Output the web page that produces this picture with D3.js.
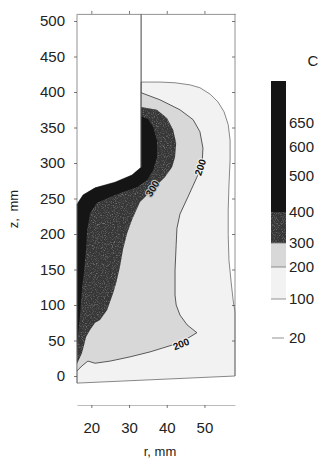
<!DOCTYPE html>
<html>
<head>
<meta charset="utf-8">
<script src="https://cdn.jsdelivr.net/npm/d3@7/dist/d3.min.js"></script>
<style>
  html, body { margin: 0; padding: 0; background: #ffffff; }
  svg { display: block; }
  text { font-family: "Liberation Sans", Arial, sans-serif; fill: #222; }
</style>
</head>
<body>
<svg id="chart" width="321" height="460"></svg>
<script>
// Axis ticks
const rTicks = [20, 30, 40, 50];
const zTicks = [0, 50, 100, 150, 200, 250, 300, 350, 400, 450, 500];

// Temperature scale (deg C): legend labels and filled band limits
const legendLevels = [20, 100, 200, 300, 400, 500, 600, 650];
const bandLimits = [20, 100, 200, 300, 400, 650];
const bandColors = ["#ffffff", "#f2f2f2", "#d8d8d8", "#363636", "#151515"];

// Part geometry, [r mm, z mm]
const innerEdge = [[16.2, 242], [17.8, 255], [21.0, 265], [26.3, 273], [30.8, 283], [33.2, 294]];
const outerEdge = [
  [33.2, 414], [38.2, 414], [42.2, 413], [46.2, 410], [48.8, 406], [51.5, 397],
  [53.6, 386], [55.2, 372], [56.3, 354], [56.8, 332], [56.8, 304], [56.5, 269],
  [56.3, 234], [56.3, 199], [56.5, 163], [57.1, 131], [57.6, 107], [58.1, 90],
  [58.1, 0], [16.2, -10]
];
const cavityTop = 510;

// Isotherms, [r mm, z mm], from the cavity wall down to the axis r = 16.2
const iso200 = [
  [33.2, 399], [38.2, 389], [43.5, 375], [47.0, 361], [48.8, 344], [49.6, 321],
  [49.4, 301], [48.0, 280], [45.6, 252], [43.5, 228], [42.7, 208], [42.5, 185],
  [42.2, 149], [42.2, 114], [42.5, 100], [43.5, 86], [45.4, 72], [48.0, 61],
  [44.9, 51], [41.7, 44], [35.6, 34], [30.3, 27], [25.0, 21], [21.0, 18],
  [19.1, 21], [17.8, 15.5], [16.7, 10], [16.2, 7]
];
const iso300 = [
  [33.2, 379], [37.4, 375], [40.1, 363], [41.7, 347], [42.5, 328], [42.2, 308],
  [41.4, 294], [39.5, 280], [37.4, 269], [35.0, 256], [32.9, 245], [30.8, 220],
  [29.5, 201], [28.4, 178], [27.6, 154], [26.6, 131], [25.8, 117], [24.2, 93],
  [22.3, 79], [21.0, 75], [19.7, 65], [18.6, 55], [18.1, 44], [17.5, 32],
  [16.7, 23], [16.2, 17]
];
const iso400 = [
  [33.2, 366], [35.0, 362], [36.4, 351], [37.4, 332], [37.4, 308], [36.4, 290],
  [34.8, 276], [32.1, 266], [28.4, 259], [25.0, 252], [21.5, 244], [19.7, 230],
  [18.9, 206], [18.6, 178], [18.1, 149], [17.5, 121], [17.0, 86], [16.5, 58],
  [16.2, 44]
];

// Isotherm labels: level, anchor [r, z], text angle
const isoLabels = [
  { level: 200, at: [48.9, 294], angle: -72 },
  { level: 200, at: [43.8, 45], angle: -22 },
  { level: 300, at: [36.2, 264], angle: -58 }
];

const svg = d3.select("#chart");

// Stipple texture used on the 300-400 band
const defs = svg.append("defs");
const grain = defs.append("filter").attr("id", "grain")
  .attr("x", 0).attr("y", 0).attr("width", "100%").attr("height", "100%")
  .attr("color-interpolation-filters", "sRGB");
grain.append("feTurbulence").attr("type", "fractalNoise")
  .attr("baseFrequency", 0.9).attr("numOctaves", 2).attr("seed", 7).attr("result", "noise");
grain.append("feColorMatrix").attr("in", "noise").attr("type", "matrix")
  .attr("values", "0 0 0 0 0.55  0 0 0 0 0.55  0 0 0 0 0.55  2.2 0 0 0 -1.08")
  .attr("result", "dots");
grain.append("feComposite").attr("in", "dots").attr("in2", "SourceGraphic")
  .attr("operator", "in").attr("result", "clip");
const merge = grain.append("feMerge");
merge.append("feMergeNode").attr("in", "SourceGraphic");
merge.append("feMergeNode").attr("in", "clip");

const x = d3.scaleLinear().domain([16.2, 58.1]).range([77, 235]);
const y = d3.scaleLinear().domain([0, 500]).range([376, 21]);
const color = d3.scaleThreshold().domain(bandLimits.slice(1, -1)).range(bandColors);
const texture = t => (t >= 300 && t < 400) ? "url(#grain)" : null;

const line = d3.line().x(d => x(d[0])).y(d => y(d[1]));
const closed = d3.line().x(d => x(d[0])).y(d => y(d[1])).curve(d3.curveLinearClosed);

const plot = svg.append("g");

// Part body (100-200 band)
const partOutline = [[16.2, -10]].concat(innerEdge, outerEdge.slice(0, -1));
plot.append("path")
  .attr("d", closed(partOutline))
  .attr("fill", color(150))
  .attr("stroke", "#6a6a6a")
  .attr("stroke-width", 0.8);

// Hotter bands, each closed along the inner edge of the part
[[iso200, 250], [iso300, 350], [iso400, 500]].forEach(([iso, t]) => {
  plot.append("path")
    .attr("d", closed(iso.concat(innerEdge)))
    .attr("fill", color(t))
    .attr("filter", texture(t))
    .attr("stroke", "none");
});

// 200 isotherm line
plot.append("path")
  .attr("d", line(iso200))
  .attr("fill", "none")
  .attr("stroke", "#333")
  .attr("stroke-width", 0.8);

// Cavity wall
plot.append("path")
  .attr("d", line([[33.2, innerEdge[innerEdge.length - 1][1]], [33.2, cavityTop]]))
  .attr("fill", "none")
  .attr("stroke", "#444")
  .attr("stroke-width", 1);

// Isotherm labels
isoLabels.forEach(l => {
  const px = x(l.at[0]), py = y(l.at[1]);
  const g = plot.append("g").attr("transform", `translate(${px},${py}) rotate(${l.angle})`);
  g.append("text")
    .attr("text-anchor", "middle")
    .attr("dy", "0.35em")
    .style("font-size", "10px")
    .style("font-weight", "bold")
    .style("fill", "#111")
    .style("stroke", l.level >= 300 ? "#bdbdbd" : "#f2f2f2")
    .style("stroke-width", 2.2)
    .style("paint-order", "stroke")
    .text(l.level);
});

// Frame axes
const axisColor = "#777";
const frameTop = y(cavityTop);

// Left axis
const leftAxis = svg.append("g").attr("transform", `translate(${x(16.2)},0)`)
  .call(d3.axisLeft(y).tickValues(zTicks).tickSize(3).tickPadding(9).tickSizeOuter(0));
leftAxis.select(".domain").attr("d", `M0,${frameTop}V${y(-10)}`);

// Right axis, ticks inward
const rightAxis = svg.append("g").attr("transform", `translate(${x(58.1)},0)`)
  .call(d3.axisLeft(y).tickValues(zTicks.slice(1)).tickSize(3).tickFormat("").tickSizeOuter(0));
rightAxis.select(".domain").attr("d", `M0,${frameTop}V${y(0)}`);

// Top axis
const topAxis = svg.append("g").attr("transform", `translate(0,${frameTop})`)
  .call(d3.axisTop(x).tickValues(rTicks).tickSize(3).tickFormat("").tickSizeOuter(0));

// Bottom axis
const bottomAxis = svg.append("g").attr("transform", "translate(0,405)")
  .call(d3.axisBottom(x).tickValues(rTicks).tickSize(3).tickPadding(14).tickSizeOuter(0));

[leftAxis, rightAxis, topAxis, bottomAxis].forEach(g => {
  g.attr("font-family", null).attr("font-size", null);
  g.select(".domain").attr("stroke", axisColor).attr("stroke-width", 0.8);
  g.selectAll(".tick line").attr("stroke", "#555").attr("stroke-width", 0.8);
  g.selectAll(".tick text").style("font-size", "15px").style("fill", "#222");
});
bottomAxis.select(".domain").attr("stroke", "#aaa");

// Axis titles
svg.append("text")
  .attr("transform", "translate(18,209) rotate(-90)")
  .attr("text-anchor", "middle")
  .style("font-size", "13px")
  .style("word-spacing", "3px")
  .text("z, mm");

svg.append("text")
  .attr("x", 160).attr("y", 456)
  .attr("text-anchor", "middle")
  .style("font-size", "13px")
  .text("r, mm");

// Colour legend
const legendY = d3.scaleLinear()
  .domain(legendLevels)
  .range([338, 299, 267, 243, 212, 176, 147, 123]);
const barX = 271, barW = 15, barTop = 81;
const legend = svg.append("g");

bandColors.forEach((c, i) => {
  const lo = bandLimits[i], hi = bandLimits[i + 1];
  const y0 = legendY(lo);
  const y1 = i === bandColors.length - 1 ? barTop : legendY(hi);
  legend.append("rect")
    .attr("x", barX).attr("y", y1)
    .attr("width", barW).attr("height", y0 - y1)
    .attr("fill", c)
    .attr("filter", texture(lo));
});

legend.selectAll("line.sep")
  .data(bandLimits.slice(0, 4))
  .join("line")
  .attr("x1", d => d === 20 ? barX + 1 : barX)
  .attr("x2", d => d === 20 ? barX + barW - 2 : barX + barW)
  .attr("y1", d => legendY(d)).attr("y2", d => legendY(d))
  .attr("stroke", "#777").attr("stroke-width", 0.8);

legend.selectAll("text.lab")
  .data(legendLevels)
  .join("text")
  .attr("x", 289)
  .attr("y", d => legendY(d))
  .attr("dy", "0.35em")
  .style("font-size", "15px")
  .text(d => d);

legend.append("text")
  .attr("x", 313).attr("y", 61)
  .attr("text-anchor", "middle")
  .attr("dy", "0.35em")
  .style("font-size", "15px")
  .text("C");
</script>
</body>
</html>
